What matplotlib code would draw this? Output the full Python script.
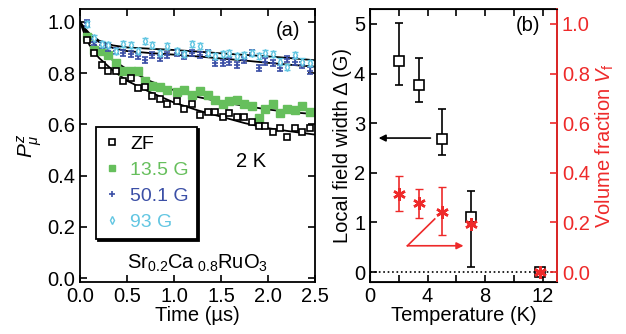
import numpy as np
import matplotlib
matplotlib.use('Agg')
import matplotlib.pyplot as plt
from matplotlib.ticker import MultipleLocator
from matplotlib.lines import Line2D

plt.rcParams['font.family'] = ['Liberation Sans', 'DejaVu Sans']
plt.rcParams['font.size'] = 14
plt.rcParams['mathtext.fontset'] = 'custom'
plt.rcParams['mathtext.rm'] = 'Liberation Sans'
plt.rcParams['mathtext.it'] = 'Liberation Sans:italic'

# ---- panel (a): muon polarization vs time ----
time = [0.07, 0.15, 0.23, 0.30, 0.38, 0.46, 0.54, 0.62, 0.69, 0.77, 0.85,
        0.93, 1.03, 1.11, 1.19, 1.28, 1.36, 1.44, 1.52, 1.59, 1.67, 1.75,
        1.83, 1.90, 1.97, 2.05, 2.13, 2.20, 2.29, 2.36, 2.45]
p_zf = [0.93, 0.88, 0.83, 0.81, 0.81, 0.77, 0.78, 0.74, 0.745, 0.71, 0.70,
        0.68, 0.69, 0.66, 0.68, 0.635, 0.65, 0.65, 0.63, 0.645, 0.63, 0.63,
        0.61, 0.595, 0.595, 0.57, 0.585, 0.55, 0.585, 0.57, 0.585]
p_135 = [0.94, 0.89, 0.885, 0.87, 0.84, 0.81, 0.81, 0.81, 0.77, 0.75, 0.745,
         0.735, 0.725, 0.735, 0.715, 0.73, 0.715, 0.695, 0.68, 0.69, 0.695, 0.68,
         0.67, 0.625, 0.66, 0.68, 0.645, 0.66, 0.655, 0.67, 0.65]
p_501 = [0.995, 0.92, 0.91, 0.90, 0.885, 0.88, 0.875, 0.867, 0.85, 0.87, 0.86,
         0.87, 0.88, 0.867, 0.88, 0.87, 0.877, 0.84, 0.84, 0.845, 0.83, 0.85,
         0.88, 0.82, 0.845, 0.84, 0.82, 0.855, 0.845, 0.83, 0.81]
p_93 = [0.99, 0.935, 0.915, 0.91, 0.885, 0.915, 0.91, 0.885, 0.925, 0.91, 0.88,
        0.905, 0.885, 0.875, 0.915, 0.905, 0.88, 0.865, 0.875, 0.877, 0.865, 0.87,
        0.877, 0.867, 0.877, 0.875, 0.845, 0.825, 0.87, 0.845, 0.84]
err_lf = 0.012

# fit curves
fit_t = [0.0, 0.05, 0.1, 0.2, 0.35, 0.5, 0.75, 1.0, 1.25, 1.5, 1.75, 2.0, 2.25, 2.5]
fit_zf = [1.0, 0.95, 0.91, 0.86, 0.81, 0.77, 0.725, 0.685, 0.655, 0.63, 0.605, 0.585, 0.572, 0.56]
fit_135 = [1.0, 0.965, 0.935, 0.895, 0.85, 0.815, 0.768, 0.733, 0.707, 0.688, 0.672, 0.658, 0.647, 0.64]
fit_501 = [1.0, 0.97, 0.95, 0.922, 0.898, 0.886, 0.878, 0.872, 0.865, 0.857, 0.849, 0.84, 0.832, 0.825]
fit_93 = [1.0, 0.975, 0.955, 0.927, 0.908, 0.9, 0.895, 0.89, 0.884, 0.877, 0.871, 0.865, 0.858, 0.85]

# ---- panel (b): field width and volume fraction vs temperature ----
temp = [2.0, 3.4, 5.0, 7.0, 11.8]
delta = [4.26, 3.77, 2.68, 1.11, 0.0]
delta_lo = [3.76, 3.43, 2.35, 0.11, 0.0]
delta_hi = [5.01, 4.31, 3.29, 1.64, 0.0]
vf = [0.316, 0.278, 0.244, 0.195, 0.0]
vf_lo = [0.245, 0.217, 0.148, 0.195, 0.0]
vf_hi = [0.386, 0.334, 0.344, 0.195, 0.0]

green = '#66bf5c'
blue = '#3b4fa6'
cyan = '#62c6e2'
red = '#ee2a2a'
fs = 14.5

fig = plt.figure(figsize=(6.26, 3.34), dpi=100)
ax = fig.add_axes([80/626, 1-282/334, 235/626, 273/334])

for f in (fit_zf, fit_135, fit_501, fit_93):
    ax.plot(fit_t, f, color='black', lw=1.3, zorder=1)

ax.errorbar(time, p_501, yerr=err_lf, fmt='+', color=blue, ms=5, mew=1.2,
            elinewidth=1, capsize=2, zorder=3)
ax.errorbar(time, p_93, yerr=err_lf, fmt='d', color=cyan, mfc='white', ms=4,
            mew=1, elinewidth=1, capsize=2, zorder=3)
ax.plot(time, p_135, 's', color=green, ms=6, zorder=2)
ax.plot(time, p_zf, 's', mfc='white', mec='black', ms=4.5, mew=1.2, zorder=2)

ax.set_xlim(0, 2.5)
ax.set_ylim(-0.015, 1.05)
ax.xaxis.set_major_locator(MultipleLocator(0.5))
ax.yaxis.set_major_locator(MultipleLocator(0.2))
ax.xaxis.set_major_formatter('{x:.1f}')
ax.yaxis.set_major_formatter('{x:.1f}')
ax.tick_params(direction='in', top=True, right=True, length=5, width=1.2, labelsize=fs)
for s in ax.spines.values():
    s.set_linewidth(1.3)
ax.set_xlabel('Time (\u00b5s)', fontsize=fs, labelpad=0)
ax.set_ylabel('$P_\\mu^z$', fontsize=15, labelpad=2)

handles = [
    Line2D([], [], ls='none', marker='s', mfc='white', mec='black', ms=5, mew=1.2),
    Line2D([], [], ls='none', marker='s', color=green, ms=5),
    Line2D([], [], ls='none', marker='+', color=blue, ms=5, mew=1.2),
    Line2D([], [], ls='none', marker='d', color=cyan, mfc='white', ms=4, mew=1),
]
leg = ax.legend(handles, ['ZF', '13.5 G', '50.1 G', '93 G'], loc='upper left',
                bbox_to_anchor=(0.068, 0.568), fontsize=14, fancybox=False,
                shadow={'color': 'black', 'alpha': 1, 'ox': 1.5, 'oy': -1.5},
                edgecolor='black', framealpha=1, handlelength=0.7, handletextpad=0.6,
                borderpad=0.45, labelspacing=0.42, borderaxespad=0)
leg.get_frame().set_linewidth(1.3)
for txt, c in zip(leg.get_texts(), ['black', green, blue, cyan]):
    txt.set_color(c)

ax.text(0.885, 0.92, '(a)', transform=ax.transAxes, ha='center', va='center', fontsize=fs)
ax.text(0.73, 0.44, '2 K', transform=ax.transAxes, ha='center', va='center', fontsize=fs)
ax.text(0.5, 0.07, 'Sr$_{0.2}$Ca$_{\\ 0.8}$RuO$_3$', transform=ax.transAxes,
        ha='center', va='center', fontsize=fs)

# panel (b)
bx = fig.add_axes([370/626, 1-282/334, 187/626, 273/334])
bx.plot([0, 13], [0, 0], ls=':', color='black', lw=1.2)
d = np.array(delta)
bx.errorbar(temp, delta, yerr=[d - np.array(delta_lo), np.array(delta_hi) - d],
            fmt='s', color='black', mfc='white', ms=7, mew=1.2, elinewidth=1.2,
            capsize=3, zorder=3)
bx.set_xlim(0, 13)
bx.set_ylim(-0.2, 5.3)
bx.xaxis.set_major_locator(MultipleLocator(4))
bx.xaxis.set_minor_locator(MultipleLocator(2))
bx.yaxis.set_major_locator(MultipleLocator(1))
bx.tick_params(which='both', direction='in', top=True, right=False, length=5,
               width=1.2, labelsize=fs)
for s in bx.spines.values():
    s.set_linewidth(1.3)
bx.set_xlabel('Temperature (K)', fontsize=fs, labelpad=0)
bx.set_ylabel('Local field width \u0394 (G)', fontsize=fs, labelpad=1)
bx.text(0.845, 0.94, '(b)', transform=bx.transAxes, ha='center', va='center', fontsize=fs)
bx.annotate('', xy=(0.6, 2.7), xytext=(4.2, 2.7),
            arrowprops=dict(arrowstyle='-|>', color='black', lw=1.2, mutation_scale=10,
                            shrinkA=0, shrinkB=0))

rx = bx.twinx()
v = np.array(vf)
rx.errorbar(temp, vf, yerr=[v - np.array(vf_lo), np.array(vf_hi) - v],
            fmt='none', ecolor=red, elinewidth=1.2, capsize=3, zorder=4)
rx.plot(temp, vf, ls='none', marker=(6, 2, 0), color=red, ms=9, mew=1.8, zorder=5)
rx.set_ylim(-0.04, 1.06)
rx.yaxis.set_major_locator(MultipleLocator(0.2))
rx.yaxis.set_major_formatter('{x:.1f}')
rx.tick_params(direction='in', length=5, width=1.2, colors=red, labelsize=fs)
rx.spines['right'].set_color(red)
rx.spines['right'].set_linewidth(1.3)
rx.set_ylabel('Volume fraction $V_\\mathrm{f}$', fontsize=fs, color=red, labelpad=3)
rx.plot([4.5, 2.6], [1.07 / 5, 0.53 / 5], color=red, lw=1.2)
rx.annotate('', xy=(6.5, 0.53 / 5), xytext=(2.6, 0.53 / 5),
            arrowprops=dict(arrowstyle='-|>', color=red, lw=1.2, mutation_scale=10,
                            shrinkA=0, shrinkB=0))

plt.savefig('out.png', dpi=100)
